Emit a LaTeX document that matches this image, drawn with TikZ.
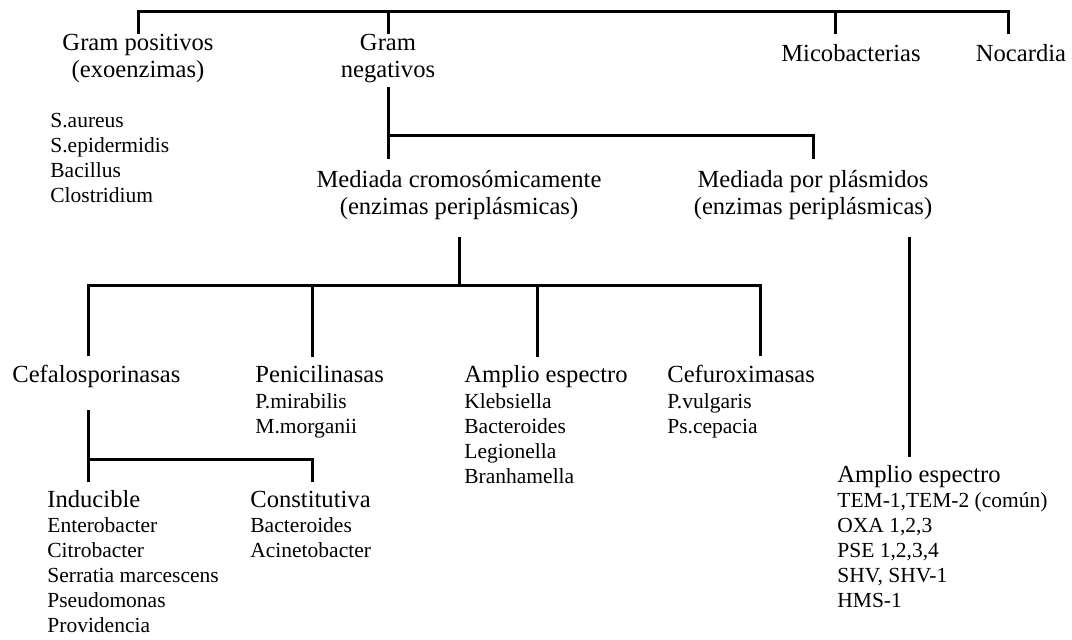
\documentclass[tikz,border=0pt]{standalone}
\usepackage{fontspec}
\setmainfont{Liberation Serif}
\usetikzlibrary{positioning}

\tikzset{
    head/.style={font=\fontsize{12.3}{13.5}\selectfont, inner sep=0pt, align=center, anchor=base},
    headl/.style={font=\fontsize{12.3}{13.5}\selectfont, inner sep=0pt, anchor=base west},
    items/.style={font=\fontsize{10.75}{12.5}\selectfont, inner sep=0pt, align=left, anchor=base west},
    link/.style={line width=1.5pt}
}

\begin{document}
\begin{tikzpicture}[x=0.5pt,y=-0.5pt]
\useasboundingbox (0,0) rectangle (1072,640);

% Top level (base = last line)
\node[head] (gpos) at (138,78) {Gram positivos\\(exoenzimas)};
\node[head] (gneg) at (388,78) {Gram\\negativos};
\node[head] (mico) at (851,62) {Micobacterias};
\node[head] (noca) at (1021,62) {Nocardia};
\node[items] (gposlist) at (50,203) {S.aureus\\S.epidermidis\\Bacillus\\Clostridium};

% Gram negativos
\node[head] (crom) at (459,215) {Mediada cromosómicamente\\(enzimas periplásmicas)};
\node[head] (plas) at (813,215) {Mediada por plásmidos\\(enzimas periplásmicas)};

% Chromosomal enzymes
\node[headl] (cefa) at (12,383) {Cefalosporinasas};
\node[headl] (peni) at (255,383) {Penicilinasas};
\node[items] (penilist) at (255,434) {P.mirabilis\\M.morganii};
\node[headl] (ampl) at (464,383) {Amplio espectro};
\node[items] (ampllist) at (464,484) {Klebsiella\\Bacteroides\\Legionella\\Branhamella};
\node[headl] (cefu) at (667,383) {Cefuroximasas};
\node[items] (cefulist) at (667,434) {P.vulgaris\\Ps.cepacia};

% Cefalosporinasas
\node[headl] (indu) at (47,508) {Inducible};
\node[items] (indulist) at (47,633) {Enterobacter\\Citrobacter\\Serratia marcescens\\Pseudomonas\\Providencia};
\node[headl] (cons) at (250,508) {Constitutiva};
\node[items] (conslist) at (250,558) {Bacteroides\\Acinetobacter};

% Plasmids
\node[headl] (plasampl) at (837,483) {Amplio espectro};
\node[items] (plaslist) at (837,608) {TEM-1,TEM-2 (común)\\OXA 1,2,3\\PSE 1,2,3,4\\SHV, SHV-1\\HMS-1};

% Junctions
\coordinate (t1) at (138,12);
\coordinate (t3) at (835,12);
\coordinate (t4) at (1008,12);
\coordinate (g1) at (388,136);
\coordinate (c1) at (88,286);
\coordinate (c2) at (312,286);
\coordinate (c3) at (537,286);
\coordinate (c4) at (760,286);
\coordinate (s1) at (88,460);
\coordinate (s2) at (312,460);
\coordinate (p1) at (909,237);

% Lines
\draw[link, shorten >=5.5pt] (gpos.north) |- (t4) -- (t4 |- noca.north);
\draw[link] (gneg.north |- t1) -- (gneg.north);
\draw[link, shorten >=5.5pt] (t3) -- (t3 |- mico.north);

\draw[link, shorten <=1.8pt, shorten >=5.5pt] (gneg.south) -- (gneg.south |- crom.north);
\draw[link, shorten >=5.5pt] (g1) -| (plas.north);

\draw[link, shorten <=8.3pt] (crom.south) -- (crom.south |- c1);
\draw[link, shorten <=4.5pt, shorten >=4.5pt] (c1 |- cefa.north) -- (c1) -- (c4) -- (c4 |- cefu.north);
\draw[link, shorten >=4.5pt] (c2) -- (c2 |- peni.north);
\draw[link, shorten >=4.5pt] (c3) -- (c3 |- ampl.north);

\draw[link, shorten <=10.8pt, shorten >=4.5pt] (s1 |- cefa.south) -- (s1 |- indu.north);
\draw[link, shorten >=4.5pt] (s1) -- (s2) -- (s2 |- cons.north);

\draw[link, shorten >=4.5pt] (p1) -- (p1 |- plasampl.north);

\end{tikzpicture}
\end{document}
